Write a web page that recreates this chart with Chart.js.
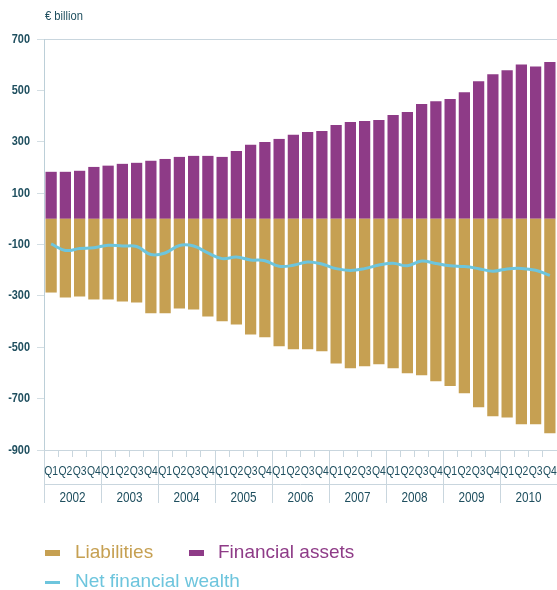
<!DOCTYPE html>
<html>
<head>
<meta charset="utf-8">
<script src="https://cdn.jsdelivr.net/npm/chart.js@4.4.1/dist/chart.umd.min.js"></script>
<style>
  html, body { margin: 0; padding: 0; background: #fff; }
  #wrap { position: relative; width: 557px; height: 590px; overflow: hidden; }
  .leg { position: absolute; font: 19px 'Liberation Sans', Arial, sans-serif; white-space: nowrap; }
  .mk { position: absolute; }
</style>
</head>
<body>
<div id="wrap">
  <canvas id="chart" width="557" height="590"></canvas>
  <div class="mk" style="left:45px;top:550px;width:15px;height:6px;background:#c6a052"></div>
  <div class="leg" style="left:75px;top:541px;color:#c6a052">Liabilities</div>
  <div class="mk" style="left:189px;top:550px;width:15px;height:6px;background:#8e3b87"></div>
  <div class="leg" style="left:218px;top:541px;color:#8e3b87">Financial assets</div>
  <div class="mk" style="left:45px;top:581px;width:15px;height:3px;background:#6dc5dd"></div>
  <div class="leg" style="left:75px;top:570px;color:#6dc5dd">Net financial wealth</div>
</div>
<script>
// Data (EUR billion), 2002 Q1 .. 2010 Q4
const years = ['2002', '2003', '2004', '2005', '2006', '2007', '2008', '2009', '2010'];
const quarters = ['Q1', 'Q2', 'Q3', 'Q4'];
const financialAssets = [183, 183, 187, 202, 207, 214, 218, 226, 233, 241, 245, 245,
    241, 264, 288, 299, 311, 327, 338, 342, 365, 377, 381, 385,
    404, 416, 447, 458, 466, 493, 536, 563, 578, 601, 593, 610];
const liabilities = [-287, -306, -302, -314, -314, -322, -326, -368, -368, -349, -353, -380,
    -399, -411, -450, -461, -496, -508, -508, -516, -563, -582, -574, -566,
    -582, -601, -609, -632, -651, -679, -734, -769, -773, -800, -800, -835];
const netWealth = [-98, -123, -116, -113, -103, -106, -108, -139, -133, -104, -106, -133,
    -155, -149, -160, -163, -185, -181, -168, -176, -194, -201, -194, -180,
    -173, -183, -164, -174, -183, -186, -194, -204, -195, -193, -200, -220];
const yTicks = [700, 500, 300, 100, -100, -300, -500, -700, -900];

const labels = [];
years.forEach(() => quarters.forEach(q => labels.push(q)));

const SANS = "'Liberation Sans', Arial, sans-serif";
const TEXT = '#1f4f5f';
const LINE = '#c9d6de';

// condensed text: draw with a horizontal squeeze
function narrowText(ctx, text, x, y, align, font, sx) {
    ctx.save();
    ctx.translate(x, y);
    ctx.scale(sx, 1);
    ctx.font = font;
    ctx.textAlign = align;
    ctx.textBaseline = 'middle';
    ctx.fillText(text, 0, 0);
    ctx.restore();
}

// Axis texts and the year row
const axisText = {
    id: 'axisText',
    afterDraw(chart) {
        const ctx = chart.ctx;
        const x = chart.scales.x;
        const y = chart.scales.y;
        const area = chart.chartArea;
        const step = x.width / labels.length;
        ctx.save();
        ctx.strokeStyle = LINE;
        ctx.lineWidth = 1;
        ctx.beginPath();
        ctx.moveTo(area.left, 484.5);
        ctx.lineTo(area.right, 484.5);
        years.forEach((yr, i) => {
            const px = Math.round(x.getPixelForValue(i * 4) - step / 2) + 0.5;
            ctx.moveTo(px, area.bottom);
            ctx.lineTo(px, 503);
        });
        ctx.stroke();
        ctx.fillStyle = TEXT;

        narrowText(ctx, '€ billion', 45, 16, 'left', '13px ' + SANS, 0.86);

        yTicks.forEach(v => {
            narrowText(ctx, String(v), 30, y.getPixelForValue(v), 'right', 'bold 13px ' + SANS, 0.84);
        });

        labels.forEach((q, i) => {
            narrowText(ctx, q, x.getPixelForValue(i), 471, 'center', '13px ' + SANS, 0.8);
        });

        years.forEach((yr, i) => {
            const cx = (x.getPixelForValue(i * 4) + x.getPixelForValue(i * 4 + 3)) / 2;
            narrowText(ctx, yr, cx, 498, 'center', '14px ' + SANS, 0.84);
        });
        ctx.restore();
    }
};

new Chart(document.getElementById('chart'), {
    type: 'bar',
    data: {
        labels: labels,
        datasets: [
            {
                type: 'line',
                label: 'Net financial wealth',
                data: netWealth,
                borderColor: '#6dc5dd',
                borderWidth: 3,
                pointRadius: 0,
                tension: 0.4,
                fill: false,
                stack: 'net',
                order: 0
            },
            {
                label: 'Liabilities',
                data: liabilities,
                backgroundColor: '#c6a052',
                stack: 'bars',
                order: 1
            },
            {
                label: 'Financial assets',
                data: financialAssets,
                backgroundColor: '#8e3b87',
                stack: 'bars',
                order: 1
            }
        ]
    },
    options: {
        responsive: false,
        animation: false,
        devicePixelRatio: 1,
        layout: { padding: { top: 39, right: 0, left: 0, bottom: 85 } },
        datasets: { bar: { barPercentage: 0.79, categoryPercentage: 1 } },
        plugins: { legend: { display: false }, tooltip: { enabled: false } },
        scales: {
            x: {
                stacked: true,
                afterFit(s) { s.height = 55; s.paddingLeft = 0; s.paddingRight = 0; },
                grid: { display: true, drawOnChartArea: false, offset: true, tickLength: 7, color: LINE },
                border: { display: true, color: LINE },
                ticks: { display: false }
            },
            y: {
                stacked: true,
                min: -900,
                max: 700,
                afterFit(s) { s.width = 44; s.paddingTop = 0; s.paddingBottom = 0; },
                afterBuildTicks(s) { s.ticks = yTicks.map(v => ({ value: v })); },
                grid: {
                    color: c => (c.tick && c.tick.value === 700 ? LINE : 'transparent'),
                    tickColor: '#d3dee3',
                    tickLength: 7
                },
                border: { display: true, color: '#bccfd8' },
                ticks: { display: false }
            }
        }
    },
    plugins: [axisText]
});
</script>
</body>
</html>
